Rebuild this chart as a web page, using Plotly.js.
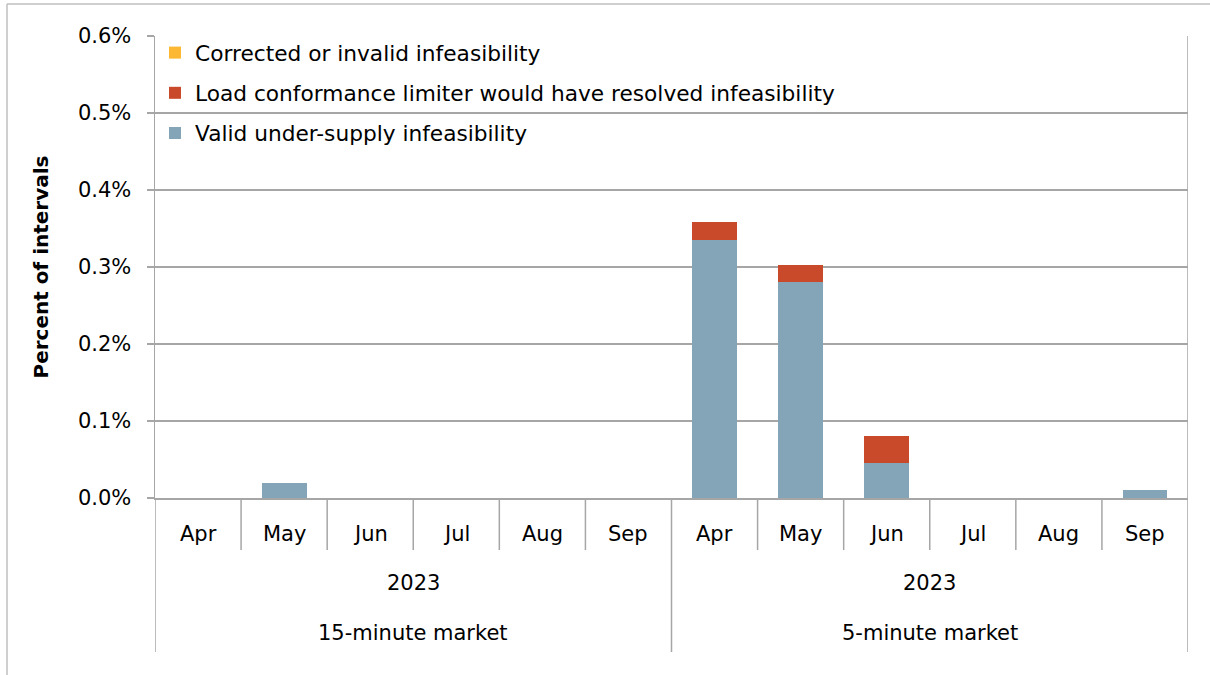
<!DOCTYPE html>
<html>
<head>
<meta charset="utf-8">
<script src="https://cdn.plot.ly/plotly-3.0.1.min.js"></script>
<style>
html,body{margin:0;padding:0;background:#fff;}
#chart{width:1210px;height:675px;}
</style>
</head>
<body>
<div id="chart"></div>
<script>
// ---- data ----
var markets = ["15-minute market", "5-minute market"];
var years = ["2023", "2023"];
var months = ["Apr", "May", "Jun", "Jul", "Aug", "Sep"];
// values in percent of intervals, order: 15-min Apr..Sep, 5-min Apr..Sep
var validUnderSupply = [0, 0.020, 0, 0, 0, 0, 0.335, 0.280, 0.045, 0, 0, 0.010];
var loadConformance  = [0, 0, 0, 0, 0, 0, 0.023, 0.022, 0.036, 0, 0, 0];
var correctedInvalid = [0, 0, 0, 0, 0, 0, 0, 0, 0, 0, 0, 0];
var seriesNames = ["Valid under-supply infeasibility",
                   "Load conformance limiter would have resolved infeasibility",
                   "Corrected or invalid infeasibility"];
var yTicks = [0, 0.1, 0.2, 0.3, 0.4, 0.5, 0.6];

// ---- build ----
var cats = [];
markets.forEach(function(m){ months.forEach(function(mo){ cats.push(m + "|" + mo); }); });

var font = "DejaVu Sans, Liberation Sans, sans-serif";
var fs = 21;
var gridCol = "#a6a6a6";

var traces = [
  {type:"bar", name:seriesNames[0], x:cats, y:validUnderSupply, marker:{color:"#84a5b8"}, legendgroup:"a", legendrank:3},
  {type:"bar", name:seriesNames[1], x:cats, y:loadConformance, marker:{color:"#c84a2a"}, legendgroup:"b", legendrank:2},
  {type:"bar", name:seriesNames[2], x:cats, y:correctedInvalid, marker:{color:"#fdb833"}, legendgroup:"c", legendrank:1}
];

// plot area in px
var L = 155, R = 1188, T = 36, B = 498;
var H = B - T;
function py(pix){ return (B - pix) / H; }
function px(pix){ return (pix - L) / (R - L); }

var shapes = [];
var annotations = [];
var n = cats.length;
// month dividers
for (var i = 1; i < n; i++) {
  var isGroup = (i % months.length === 0);
  shapes.push({type:"line", xref:"x", yref:"paper", x0:i-0.5, x1:i-0.5, y0:0, y1:py(isGroup?652:550),
               line:{color:gridCol, width:1.5}});
}
// outer group lines
shapes.push({type:"line", xref:"x", yref:"paper", x0:-0.5, x1:-0.5, y0:0, y1:py(652), line:{color:gridCol, width:1.5}});
shapes.push({type:"line", xref:"x", yref:"paper", x0:n-0.5, x1:n-0.5, y0:1, y1:py(652), line:{color:gridCol, width:1.5}});
// chart border (top and left)
shapes.push({type:"line", xref:"paper", yref:"paper", x0:px(7), x1:px(1210), y0:py(4), y1:py(4), line:{color:"#bfbfbf", width:1.5}});
shapes.push({type:"line", xref:"paper", yref:"paper", x0:px(7), x1:px(7), y0:py(4), y1:py(675), line:{color:"#bfbfbf", width:1.5}});

// month labels
cats.forEach(function(c, i){
  annotations.push({xref:"x", yref:"paper", x:i, y:py(534), text:months[i % months.length], showarrow:false,
                    font:{family:font, size:fs, color:"#000"}, xanchor:"center", yanchor:"middle"});
});
// year and market labels
markets.forEach(function(m, g){
  var center = g * months.length + (months.length - 1) / 2;
  annotations.push({xref:"x", yref:"paper", x:center, y:py(583), text:years[g], showarrow:false,
                    font:{family:font, size:fs, color:"#000"}, xanchor:"center", yanchor:"middle"});
  annotations.push({xref:"x", yref:"paper", x:center, y:py(633), text:m, showarrow:false,
                    font:{family:font, size:fs, color:"#000"}, xanchor:"center", yanchor:"middle"});
});

var layout = {
  width:1210, height:675,
  margin:{l:L, r:1210-R, t:T, b:675-B, pad:0},
  paper_bgcolor:"#fff", plot_bgcolor:"#fff",
  barmode:"stack", bargap:0.48,
  font:{family:font, size:fs, color:"#000"},
  showlegend:true,
  legend:{x:0.0, y:1.0 + 4/462, xanchor:"left", yanchor:"top", traceorder:"grouped", tracegroupgap:9,
          bgcolor:"rgba(255,255,255,0)", font:{family:font, size:21.7, color:"#000"}},
  xaxis:{type:"category", categoryorder:"array", categoryarray:cats, range:[-0.5, n-0.5],
         showticklabels:false, ticks:"", showgrid:false, zeroline:false,
         showline:true, linecolor:gridCol, linewidth:2, fixedrange:true},
  yaxis:{range:[0, 0.6], tickvals:yTicks, ticktext:yTicks.map(function(v){return v.toFixed(1)+"%";}),
         ticks:"outside", ticklen:7, tickcolor:gridCol, tickwidth:1.5,
         showgrid:true, gridcolor:gridCol, gridwidth:1.5, zeroline:false,
         showline:true, linecolor:gridCol, linewidth:1.5,
         tickfont:{family:font, size:fs, color:"#000"}, ticklabelstandoff:11,
         title:{text:"<b>Percent of intervals</b>", font:{family:font, size:20, color:"#000"}, standoff:24}},
  shapes:shapes,
  annotations:annotations
};

Plotly.newPlot("chart", traces, layout, {displayModeBar:false, staticPlot:true});
</script>
</body>
</html>
